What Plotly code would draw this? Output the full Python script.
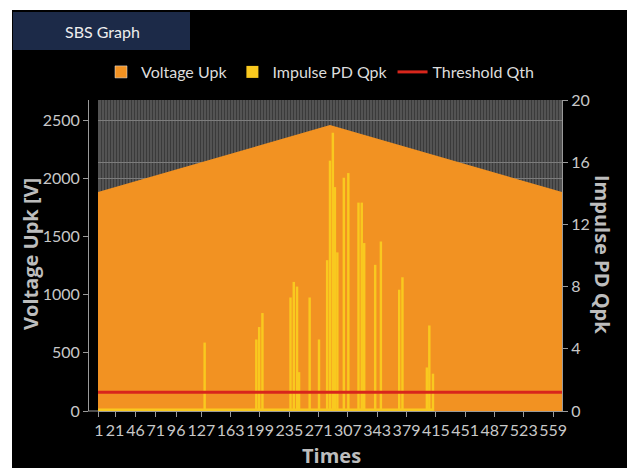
import plotly.graph_objects as go

# ---------------- data ----------------
time_ticks = [1, 21, 46, 71, 96, 127, 163, 199, 235, 271, 307, 343, 379, 415, 451, 487, 523, 559]

volt_x = [0, 285, 570]
volt_upk = [1881, 2457, 1881]

qpk_x = [131, 194.5, 198, 202, 236.5, 240.5, 244.5, 247, 260, 271.5, 281.5, 285, 288.5,
         291, 294, 302, 307.5, 320, 324, 327, 340.5, 347.5, 370, 374, 404, 407, 411.5]
qpk = [4.4, 4.6, 5.4, 6.3, 7.3, 8.3, 8.0, 2.5, 7.3, 4.6, 9.7, 16.1, 17.9,
       14.4, 10.2, 15.0, 15.3, 13.4, 13.4, 10.8, 9.4, 10.9, 7.8, 8.6, 2.8, 5.5, 2.4]

qpk_floor_x = [0, 412]
qpk_floor = [0.16, 0.16]

qth_x = [0, 570]
qth = [1.2, 1.2]

# ---------------- style ----------------
OFF = 8  # page body margin
W, H = 635 - OFF, 468 - OFF
PL, PR, PT, PB = 88, 562, 100, 411  # plot frame in window pixels
L, R, T, B = PL - OFF, W - (PR - OFF), PT - OFF, H - (PB - OFF)
PW, PH = W - L - R, H - T - B

ORANGE = "#F29222"
YELLOW = "#F9C91F"
RED = "#D8261C"
TICK = "#c8c8c8"
TITLE = "#bdbdbd"
AXIS = "#9a9a9a"
FONT = "Lato"
TFONT = "Open Sans"


def px_x(px):
    return (px - OFF - L) / PW


def px_y(py):
    return (H - B - (py - OFF)) / PH


fig = go.Figure()

fig.add_trace(go.Bar(x=[None], y=[None], name="Voltage Upk", marker_color=ORANGE))
fig.add_trace(go.Scatter(x=volt_x, y=volt_upk, fill="tozeroy", mode="none",
                         fillcolor=ORANGE, showlegend=False, name="Voltage Upk"))
fig.add_trace(go.Scatter(x=qpk_floor_x, y=qpk_floor, fill="tozeroy", mode="none",
                         fillcolor=YELLOW, showlegend=False, yaxis="y2",
                         name="Impulse PD Qpk"))
fig.add_trace(go.Bar(x=qpk_x, y=qpk, width=3.0, marker_color=YELLOW,
                     marker_line_width=0, yaxis="y2", name="Impulse PD Qpk"))
fig.add_trace(go.Scatter(x=qth_x, y=qth, mode="lines", line=dict(color=RED, width=3),
                         yaxis="y2", name="Threshold Qth"))

x_start = px_x(98)

fig.update_layout(
    width=W, height=H,
    margin=dict(l=L, r=R, t=T, b=B),
    paper_bgcolor="#000000",
    plot_bgcolor="#535353",
    barmode="overlay",
    font=dict(family=FONT, color=TICK, size=16),
    showlegend=True,
    legend=dict(orientation="h", x=px_x(320), xanchor="center", y=px_y(72),
                yanchor="middle", font=dict(family=FONT, size=16, color="#dcdcdc"),
                bgcolor="rgba(0,0,0,0)", itemwidth=30, traceorder="normal"),
    xaxis=dict(domain=[x_start, 1], range=[0, 570], tickmode="array", tickvals=time_ticks,
               ticktext=[str(v) for v in time_ticks], tickangle=0,
               ticks="outside", ticklen=5, tickcolor=AXIS, showline=True, linecolor=AXIS,
               showgrid=False, zeroline=False, tickfont=dict(family=FONT, size=16, color=TICK),
               minor=dict(tick0=0, dtick=3.7, showgrid=True, gridcolor="#3a3a3a",
                          gridwidth=1, ticks="")),
    yaxis=dict(range=[0, 2672], tickvals=[0, 500, 1000, 1500, 2000, 2500], anchor="free",
               position=0, ticks="outside", ticklen=5, tickcolor=AXIS, showline=True,
               linecolor=AXIS, showgrid=True, gridcolor="#7c7c7c", zeroline=False,
               tickfont=dict(family=FONT, size=16, color=TICK)),
    yaxis2=dict(range=[0, 20], tickvals=[0, 4, 8, 12, 16, 20], overlaying="y", side="right",
                anchor="x", ticks="outside", ticklen=5, tickcolor=AXIS, showline=True,
                linecolor=AXIS, showgrid=True, gridcolor="#7c7c7c", zeroline=False,
                tickfont=dict(family=FONT, size=16, color=TICK)),
)

shapes = [
    # white border strips
    dict(type="rect", xref="paper", yref="paper", x0=px_x(OFF), x1=px_x(635), y0=px_y(10), y1=px_y(OFF),
         fillcolor="#ffffff", line_width=0, layer="above"),
    dict(type="rect", xref="paper", yref="paper", x0=px_x(OFF), x1=px_x(12), y0=px_y(468), y1=px_y(OFF),
         fillcolor="#ffffff", line_width=0, layer="above"),
    # title tab
    dict(type="rect", xref="paper", yref="paper", x0=px_x(13), x1=px_x(190), y0=px_y(50), y1=px_y(12),
         fillcolor="#1c2a48", line_width=0, layer="above"),
    # foot of left axis
    dict(type="line", xref="paper", yref="paper", x0=0, x1=x_start, y0=0, y1=0,
         line=dict(color=AXIS, width=1)),
]
fig.update_layout(shapes=shapes)

annotations = [
    dict(text="SBS Graph", x=px_x(102), y=px_y(31), xref="paper", yref="paper", showarrow=False,
         font=dict(family=FONT, size=16, color="#eeeeee"), xanchor="center", yanchor="middle"),
    dict(text="<b>Voltage Upk [V]</b>", x=px_x(30), y=px_y(254), xref="paper", yref="paper",
         showarrow=False, textangle=-90, font=dict(family=TFONT, size=20, color=TITLE),
         xanchor="center", yanchor="middle"),
    dict(text="<b>Impulse PD Qpk</b>", x=px_x(603), y=px_y(254), xref="paper", yref="paper",
         showarrow=False, textangle=90, font=dict(family=TFONT, size=20, color=TITLE),
         xanchor="center", yanchor="middle"),
    dict(text="<b>Times</b>", x=px_x(331), y=px_y(455), xref="paper", yref="paper",
         showarrow=False, font=dict(family=TFONT, size=20, color=TITLE),
         xanchor="center", yanchor="middle"),
]
fig.update_layout(annotations=annotations)

fig.write_html("out.html")
